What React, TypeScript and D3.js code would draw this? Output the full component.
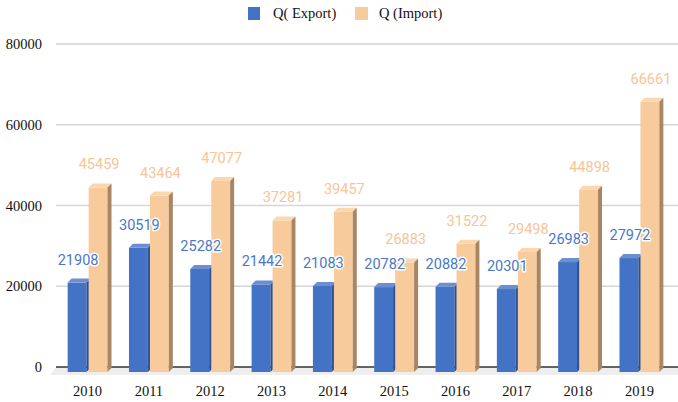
import React from 'react'
import * as d3 from 'd3'

const years = ['2010', '2011', '2012', '2013', '2014', '2015', '2016', '2017', '2018', '2019']
const exportQ = [21908, 30519, 25282, 21442, 21083, 20782, 20882, 20301, 26983, 27972]
const importQ = [45459, 43464, 47077, 37281, 39457, 26883, 31522, 29498, 44898, 66661]
const yTicks = [0, 20000, 40000, 60000, 80000]

const series = [
	{ key: 'export', name: 'Q( Export)', values: exportQ, front: '#4472c4', side: '#2c5094', top: '#6a8fd3', label: '#4a78c8' },
	{ key: 'import', name: 'Q (Import)', values: importQ, front: '#f8cb9c', side: '#a88664', top: '#fbd7b0', label: '#f7c597' },
]

const W = 678, H = 402
const left = 56, right = 678
const depth = 4

export default function App() {
	const y = d3.scaleLinear().domain([0, 80000]).range([367, 44])
	const x = d3.scaleBand().domain(years).range([56, 671]).paddingInner(0.35).paddingOuter(0.19)
	const xs = d3.scaleBand().domain(series.map(s => s.key)).range([0, x.bandwidth()]).paddingInner(0.1)
	const w = xs.bandwidth()
	const y0 = y(0)

	return (
		<svg width={W} height={H} style={{ position: 'absolute', left: 0, top: 0, background: '#fff' }}>
			{/* floor */}
			<polygon points={`${left},${y0} ${right},${y0} ${right},${y0 + 8} ${left - 6},${y0 + 8}`} fill="#eeeeee" />
			{yTicks.filter(t => t > 0).map(t => (
				<line key={t} x1={left} x2={right} y1={y(t)} y2={y(t)} stroke="#d6d6d6" strokeWidth={1.5} />
			))}
			<line x1={left} x2={right} y1={y0} y2={y0} stroke="#333" strokeWidth={1.5} />
			{yTicks.map(t => (
				<text key={t} x={42} y={y(t) + 5} textAnchor="end" fontFamily="Liberation Serif" fontSize={14.5} fill="#111">{t}</text>
			))}

			{years.map((yr, i) => (
				<g key={yr}>
					{series.map(s => {
						const bx = (x(yr) || 0) + (xs(s.key) || 0)
						const v = s.values[i]
						const ty = y(v)
						const fy = ty + depth
						const by = y0 + 5
						return (
							<g key={s.key}>
								<rect x={bx} y={fy} width={w} height={by - fy} fill={s.front} />
								<polygon points={`${bx},${fy} ${bx + depth},${ty} ${bx + w + depth},${ty} ${bx + w},${fy}`} fill={s.top} />
								<polygon points={`${bx + w},${fy} ${bx + w + depth},${ty} ${bx + w + depth},${by - depth} ${bx + w},${by}`} fill={s.side} />
							</g>
						)
					})}
				</g>
			))}

			{years.map((yr, i) => (
				<g key={'l' + yr}>
					{series.map(s => {
						const bx = (x(yr) || 0) + (xs(s.key) || 0)
						const v = s.values[i]
						return (
							<text key={s.key} x={bx + w / 2 + 1} y={y(v) - 14} textAnchor="middle" fontFamily="Roboto" fontSize={14.5}
								fill={s.label} stroke="#fff" strokeWidth={3} strokeLinejoin="round" style={{ paintOrder: 'stroke' }}>{v}</text>
						)
					})}
				</g>
			))}

			{years.map(yr => (
				<text key={'x' + yr} x={(x(yr) || 0) + x.bandwidth() / 2} y={396} textAnchor="middle" fontFamily="Liberation Serif" fontSize={14.5} fill="#111">{yr}</text>
			))}

			{/* legend */}
			<rect x={248} y={7} width={12} height={13} fill={series[0].front} />
			<text x={273} y={18} fontFamily="Liberation Serif" fontSize={14.5} fill="#111">{series[0].name}</text>
			<rect x={355} y={7} width={13} height={13} fill={series[1].front} />
			<text x={379} y={18} fontFamily="Liberation Serif" fontSize={14.5} fill="#111">{series[1].name}</text>
		</svg>
	)
}
